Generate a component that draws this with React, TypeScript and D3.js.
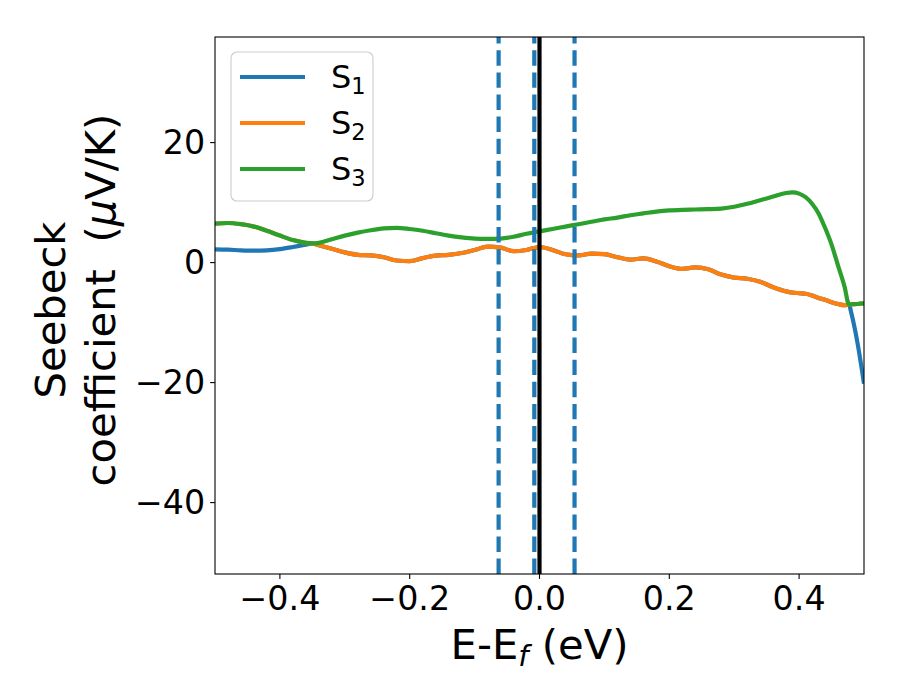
import React, { useEffect } from 'react';
import * as d3 from 'd3';

// energies relative to E_f (eV)
const energy = [
  -0.5, -0.48, -0.46, -0.44, -0.42, -0.4, -0.38, -0.36, -0.35, -0.34, -0.32, -0.3,
  -0.28, -0.26, -0.24, -0.22, -0.2, -0.18, -0.16, -0.14, -0.12, -0.1, -0.08, -0.06,
  -0.04, -0.02, 0.0, 0.02, 0.04, 0.06, 0.08, 0.1, 0.12, 0.14, 0.16, 0.18, 0.2, 0.22,
  0.24, 0.26, 0.28, 0.3, 0.32, 0.34, 0.36, 0.38, 0.39, 0.4, 0.41, 0.42, 0.43, 0.44,
  0.45, 0.46, 0.47, 0.477, 0.48, 0.49, 0.5,
];

const s1 = [
  2.2, 2.15, 2.05, 2.0, 2.05, 2.25, 2.6, 3.0, 3.2, 2.9, 2.3, 1.7,
  1.3, 1.2, 0.9, 0.35, 0.25, 0.75, 1.15, 1.3, 1.6, 2.1, 2.65, 2.5,
  1.9, 2.1, 2.6, 2.1, 1.4, 1.2, 1.5, 1.4, 0.9, 0.5, 0.7, 0.2, -0.6, -1.05,
  -0.8, -1.1, -2.0, -2.5, -2.7, -3.2, -4.1, -4.8, -5.0, -5.1, -5.2, -5.5, -5.9, -6.2,
  -6.6, -6.9, -7.1, -7.0, -8.2, -13.4, -20.2,
];

const s2 = [
  6.5, 6.6, 6.4, 6.0, 5.3, 4.5, 3.75, 3.3, 3.2, 2.9, 2.3, 1.7,
  1.3, 1.2, 0.9, 0.35, 0.25, 0.75, 1.15, 1.3, 1.6, 2.1, 2.65, 2.5,
  1.9, 2.1, 2.6, 2.1, 1.4, 1.2, 1.5, 1.4, 0.9, 0.5, 0.7, 0.2, -0.6, -1.05,
  -0.8, -1.1, -2.0, -2.5, -2.7, -3.2, -4.1, -4.8, -5.0, -5.1, -5.2, -5.5, -5.9, -6.2,
  -6.6, -6.9, -7.1, -7.0, -6.95, -6.9, -6.8,
];

const s3 = [
  6.5, 6.6, 6.4, 6.0, 5.3, 4.5, 3.75, 3.3, 3.2, 3.3, 3.9, 4.5,
  5.0, 5.4, 5.7, 5.8, 5.6, 5.3, 4.9, 4.5, 4.2, 4.0, 3.95, 4.0,
  4.3, 4.8, 5.2, 5.6, 6.0, 6.4, 6.8, 7.2, 7.5, 7.9, 8.2, 8.5, 8.7, 8.8,
  8.85, 8.9, 9.0, 9.3, 9.8, 10.4, 11.0, 11.6, 11.7, 11.5, 10.9, 9.8, 8.2, 5.8,
  3.0, -0.5, -4.0, -7.0, -6.95, -6.9, -6.8,
];

const seriesSubs = ['1', '2', '3'];
const seriesColors = ['#1f77b4', '#ff7f0e', '#2ca02c'];
const xTicks = [-0.4, -0.2, 0.0, 0.2, 0.4];
const yTicks = [-40, -20, 0, 20];
const dashedLevels = [-0.063, -0.008, 0.054];
const fermiLevel = 0.0;

const W = 900;
const H = 700;
const margin = { top: 37, right: 36, bottom: 126, left: 215 };
const FONT = '"DejaVu Sans", sans-serif';

const fmtTick = (v: number, digits: number) => {
  const s = Math.abs(v).toFixed(digits);
  return v < -1e-9 ? '\u2212' + s : s;
};

export default function App() {
  useEffect(() => {
    document.body.style.margin = '0';
  }, []);

  const x = d3.scaleLinear().domain([-0.5, 0.5]).range([margin.left, W - margin.right]);
  const y = d3.scaleLinear().domain([-51.9, 37.6]).range([H - margin.bottom, margin.top]);

  const line = d3
    .line<number>()
    .x((_, i) => x(energy[i]))
    .y((d) => y(d))
    .curve(d3.curveMonotoneX);

  const series = [s1, s2, s3];
  const top = margin.top;
  const bottom = H - margin.bottom;
  const left = margin.left;
  const right = W - margin.right;

  return (
    <svg width={W} height={H} style={{ display: 'block', background: '#fff' }} fontFamily={FONT}>
      <defs>
        <clipPath id="plot">
          <rect x={left} y={top} width={right - left} height={bottom - top} />
        </clipPath>
      </defs>

      <g clipPath="url(#plot)">
        {series.map((s, i) => (
          <path key={i} d={line(s) || ''} fill="none" stroke={seriesColors[i]} strokeWidth={4.2} strokeLinejoin="round" />
        ))}
        {dashedLevels.map((e, i) => (
          <line
            key={i}
            x1={x(e)}
            x2={x(e)}
            y1={bottom}
            y2={top}
            stroke="#1f77b4"
            strokeWidth={4.2}
            strokeDasharray="15.4 6.7"
          />
        ))}
        <line x1={x(fermiLevel)} x2={x(fermiLevel)} y1={bottom} y2={top} stroke="#000" strokeWidth={4.2} />
      </g>

      {/* frame */}
      <rect x={left} y={top} width={right - left} height={bottom - top} fill="none" stroke="#000" strokeWidth={1.1} />

      {/* x axis */}
      {xTicks.map((t) => (
        <g key={t}>
          <line x1={x(t)} x2={x(t)} y1={bottom} y2={bottom + 4.9} stroke="#000" strokeWidth={1.1} />
          <text x={x(t)} y={bottom + 36} textAnchor="middle" fontSize={33.3} fill="#000">
            {fmtTick(t, 1)}
          </text>
        </g>
      ))}
      <text x={(left + right) / 2} y={659} textAnchor="middle" fontSize={41.7} fill="#000">
        E-E
        <tspan fontStyle="italic" fontSize={29} dy={7}>f</tspan>
        <tspan dy={-7}> (eV)</tspan>
      </text>

      {/* y axis */}
      {yTicks.map((t) => (
        <g key={t}>
          <line x1={left - 4.9} x2={left} y1={y(t)} y2={y(t)} stroke="#000" strokeWidth={1.1} />
          <text x={left - 9.8} y={y(t) + 11.8} textAnchor="end" fontSize={33.3} fill="#000">
            {fmtTick(t, 0)}
          </text>
        </g>
      ))}
      <text transform="translate(65,310) rotate(-90)" textAnchor="middle" fontSize={41.7} fill="#000">
        Seebeck
      </text>
      <text transform="translate(115,300) rotate(-90)" textAnchor="middle" fontSize={41.7} fill="#000">
        {'coefficient\u00a0\u00a0('}
        <tspan fontStyle="italic">μ</tspan>
        V/K)
      </text>

      {/* legend */}
      <rect x={231} y={52} width={142} height={149} rx={6} fill="#fff" fillOpacity={0.8} stroke="#cccccc" strokeWidth={1.1} />
      {seriesSubs.map((sub, i) => {
        const ry = 77 + i * 46;
        return (
          <g key={sub}>
            <line x1={240} x2={305} y1={ry} y2={ry} stroke={seriesColors[i]} strokeWidth={4.2} />
            <text x={331} y={ry + 11} fontSize={32} fill="#000">
              S
              <tspan fontSize={22.5} dy={6}>{sub}</tspan>
            </text>
          </g>
        );
      })}
    </svg>
  );
}
